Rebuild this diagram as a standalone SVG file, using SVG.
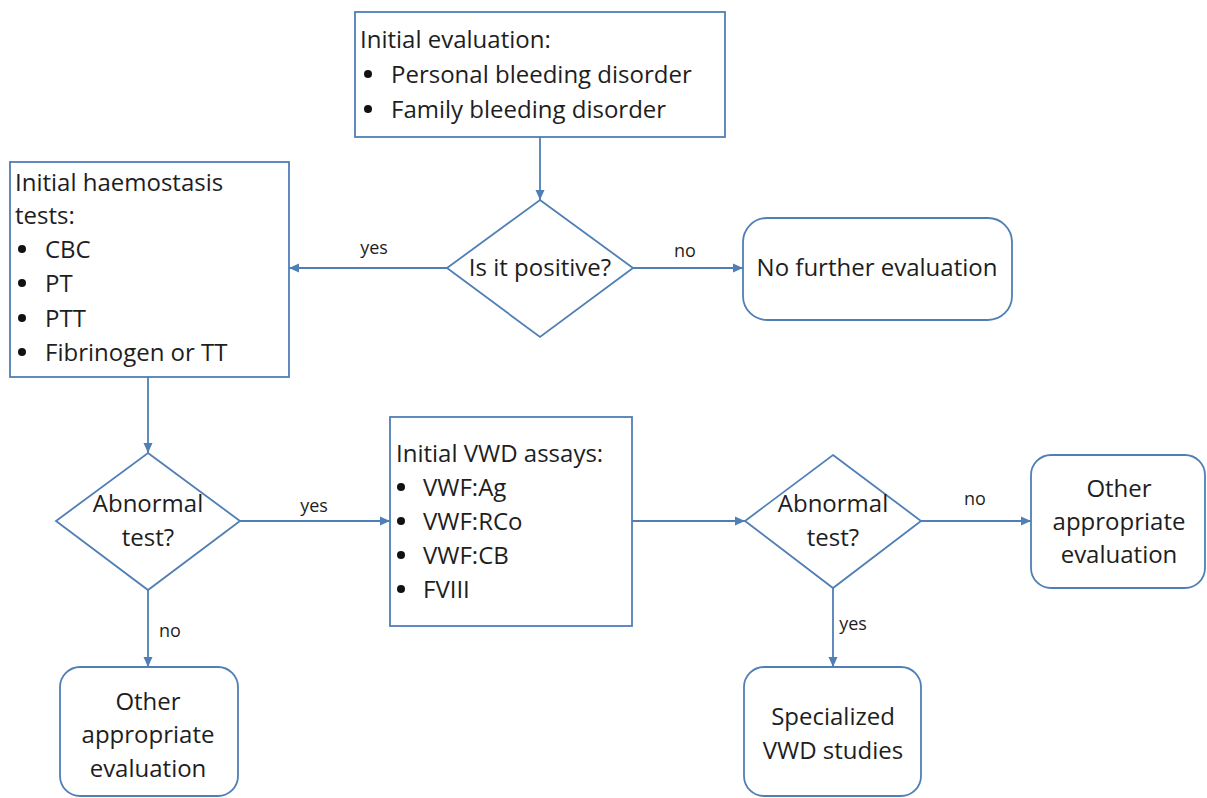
<svg xmlns="http://www.w3.org/2000/svg" width="1207" height="798" viewBox="0 0 1207 798">
<defs>
<style>
.box{fill:#fff;stroke:#4f7fb5;stroke-width:1.8}
.ln{fill:none;stroke:#4f7fb5;stroke-width:1.8;marker-end:url(#ah)}
.t{font-family:"Open Sans","Liberation Sans",sans-serif;font-size:24px;fill:#1e1e1e}
.c{text-anchor:middle}
.lb{font-family:"Open Sans","Liberation Sans",sans-serif;font-size:18px;fill:#1e1e1e;text-anchor:middle}
.dot{fill:#111}
</style>
<marker id="ah" markerWidth="11" markerHeight="10" refX="10" refY="5" orient="auto" markerUnits="userSpaceOnUse">
<path d="M0,0.5 L10,5 L0,9.5 z" fill="#4f7fb5"/>
</marker>
</defs>
<rect width="1207" height="798" fill="#fff"/>
<g id="connectors">
<line class="ln" x1="540" y1="137" x2="540" y2="200"/>
<line class="ln" x1="447" y1="268" x2="289" y2="268"/>
<line class="ln" x1="633" y1="268" x2="743" y2="268"/>
<line class="ln" x1="148" y1="377" x2="148" y2="453"/>
<line class="ln" x1="240" y1="521" x2="390" y2="521"/>
<line class="ln" x1="148" y1="590" x2="148" y2="667"/>
<line class="ln" x1="632" y1="521" x2="745" y2="521"/>
<line class="ln" x1="921" y1="521" x2="1031" y2="521"/>
<line class="ln" x1="833" y1="588" x2="833" y2="667"/>
<text class="lb" x="374" y="254">yes</text>
<text class="lb" x="685" y="257">no</text>
<text class="lb" x="314" y="512">yes</text>
<text class="lb" x="170" y="637">no</text>
<text class="lb" x="975" y="505">no</text>
<text class="lb" x="853" y="630">yes</text>
</g>
<g id="initial-evaluation">
<rect class="box" x="355" y="12" width="370" height="125"/>
<text class="t" x="360" y="48">Initial evaluation:</text>
<circle class="dot" cx="368" cy="74" r="4"/>
<text class="t" x="391" y="83">Personal bleeding disorder</text>
<circle class="dot" cx="368" cy="109" r="4"/>
<text class="t" x="391" y="118">Family bleeding disorder</text>
</g>
<g id="is-positive">
<polygon class="box" points="540,200 633,268 540,337 447,268"/>
<text class="t c" x="540" y="276">Is it positive?</text>
</g>
<g id="no-further">
<rect class="box" x="743" y="218" width="269" height="102" rx="24"/>
<text class="t c" x="877" y="276">No further evaluation</text>
</g>
<g id="haemostasis-tests">
<rect class="box" x="10" y="162" width="279" height="215"/>
<text class="t" x="15" y="191">Initial haemostasis</text>
<text class="t" x="15" y="224">tests:</text>
<circle class="dot" cx="22" cy="249" r="4"/>
<text class="t" x="45" y="258">CBC</text>
<circle class="dot" cx="22" cy="283" r="4"/>
<text class="t" x="45" y="292">PT</text>
<circle class="dot" cx="22" cy="318" r="4"/>
<text class="t" x="45" y="327">PTT</text>
<circle class="dot" cx="22" cy="352" r="4"/>
<text class="t" x="45" y="361">Fibrinogen or TT</text>
</g>
<g id="abnormal-1">
<polygon class="box" points="148,453 240,521 148,590 56,521"/>
<text class="t c" x="148" y="512">Abnormal</text>
<text class="t c" x="148" y="546">test?</text>
</g>
<g id="other-eval-1">
<rect class="box" x="60" y="667" width="178" height="129" rx="20"/>
<text class="t c" x="148" y="710">Other</text>
<text class="t c" x="148" y="743">appropriate</text>
<text class="t c" x="148" y="777">evaluation</text>
</g>
<g id="vwd-assays">
<rect class="box" x="390" y="417" width="242" height="209"/>
<text class="t" x="396" y="462">Initial VWD assays:</text>
<circle class="dot" cx="401" cy="487" r="4"/>
<text class="t" x="423" y="496">VWF:Ag</text>
<circle class="dot" cx="401" cy="521" r="4"/>
<text class="t" x="423" y="530">VWF:RCo</text>
<circle class="dot" cx="401" cy="555" r="4"/>
<text class="t" x="423" y="564">VWF:CB</text>
<circle class="dot" cx="401" cy="589" r="4"/>
<text class="t" x="423" y="598">FVIII</text>
</g>
<g id="abnormal-2">
<polygon class="box" points="833,455 921,521 833,588 745,521"/>
<text class="t c" x="833" y="512">Abnormal</text>
<text class="t c" x="833" y="546">test?</text>
</g>
<g id="other-eval-2">
<rect class="box" x="1031" y="455" width="174" height="133" rx="20"/>
<text class="t c" x="1119" y="497">Other</text>
<text class="t c" x="1119" y="530">appropriate</text>
<text class="t c" x="1119" y="563">evaluation</text>
</g>
<g id="specialized">
<rect class="box" x="744" y="667" width="177" height="129" rx="20"/>
<text class="t c" x="833" y="725">Specialized</text>
<text class="t c" x="833" y="759">VWD studies</text>
</g>
</svg>
